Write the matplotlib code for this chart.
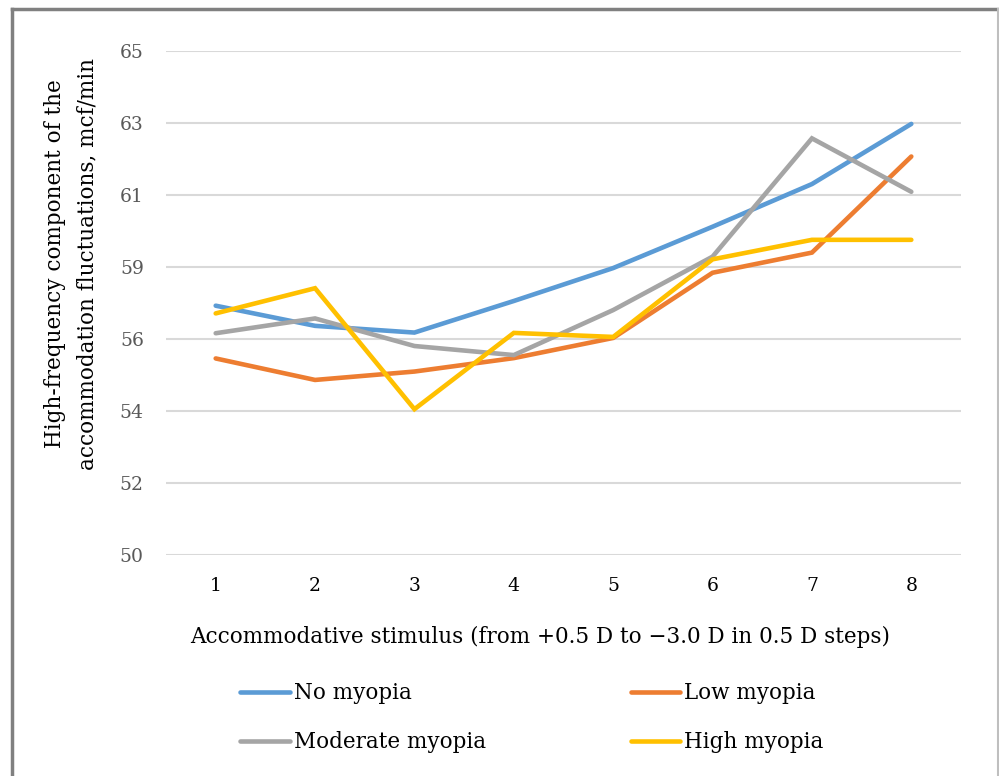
import matplotlib
matplotlib.use("Agg")
import matplotlib.pyplot as plt
import numpy as np
from matplotlib.lines import Line2D

categories = [1, 2, 3, 4, 5, 6, 7, 8]
no_myopia = [57.42, 56.82, 56.62, 57.56, 58.54, 59.77, 61.04, 62.83]
low_myopia = [55.85, 55.21, 55.46, 55.86, 56.46, 58.40, 59.00, 61.86]
moderate_myopia = [56.60, 57.04, 56.22, 55.95, 57.29, 58.88, 62.40, 60.81]
high_myopia = [57.19, 57.94, 54.34, 56.61, 56.49, 58.80, 59.38, 59.38]
series_names = ["No myopia", "Low myopia", "Moderate myopia", "High myopia"]
colors = ["#5B9BD5", "#ED7D31", "#A5A5A5", "#FFC000"]

plt.rcParams['font.family'] = ['DejaVu Serif']

fig = plt.figure(figsize=(9.99, 7.76), dpi=100)
ax = fig.add_axes([166 / 999, 1 - 555 / 776, (961 - 166) / 999, (555 - 51) / 776])

handles = []
for vals, name, c in zip([no_myopia, low_myopia, moderate_myopia, high_myopia], series_names, colors):
    h, = ax.plot(categories, vals, color=c, lw=3.3, solid_capstyle='round', solid_joinstyle='miter', label=name, zorder=3)
    handles.append(h)

yticks = np.linspace(50, 65, 8)
ax.set_ylim(50, 65)
ax.set_yticks(yticks)
ax.set_yticklabels([f"{v:.0f}" for v in yticks])
ax.set_xlim(0.5, 8.5)
ax.set_xticks(categories)
ax.set_xticklabels([str(c) for c in categories])
ax.grid(axis='y', color='#D9D9D9', lw=1.5, zorder=0)
ax.set_axisbelow(True)
for s in ax.spines.values():
    s.set_visible(False)
ax.tick_params(axis='both', length=0)
ax.tick_params(axis='y', labelcolor='#595959', labelsize=13.5, pad=16)
ax.tick_params(axis='x', labelcolor='black', labelsize=13.5, pad=16)

ax.set_xlabel("Accommodative stimulus (from +0.5 D to \u22123.0 D in 0.5 D steps)", fontsize=15.5)
ax.xaxis.set_label_coords(0.4704, -0.14)
ax.set_ylabel("High-frequency component of the\naccommodation fluctuations, mcf/min", fontsize=15.5, linespacing=1.6)
ax.yaxis.set_label_coords(-0.0855, 0.578)

order = [0, 2, 1, 3]
leg = fig.legend([handles[i] for i in order], [series_names[i] for i in order],
                 ncol=2, loc='upper left', bbox_to_anchor=(221 / 999, 1 - 663 / 776),
                 frameon=False, fontsize=15.5, handlelength=2.3, handletextpad=0.2,
                 columnspacing=6.7, labelspacing=1.25)

# figure border
fig.add_artist(Line2D([12 / 999, 12 / 999], [0, 1 - 9 / 776], transform=fig.transFigure, color='#808080', lw=2.5))
fig.add_artist(Line2D([12 / 999, 998 / 999], [1 - 9 / 776, 1 - 9 / 776], transform=fig.transFigure, color='#808080', lw=2.5))
fig.add_artist(Line2D([998 / 999, 998 / 999], [0, 1 - 9 / 776], transform=fig.transFigure, color='#BFBFBF', lw=1.5))

fig.savefig("out.png", dpi=100)
